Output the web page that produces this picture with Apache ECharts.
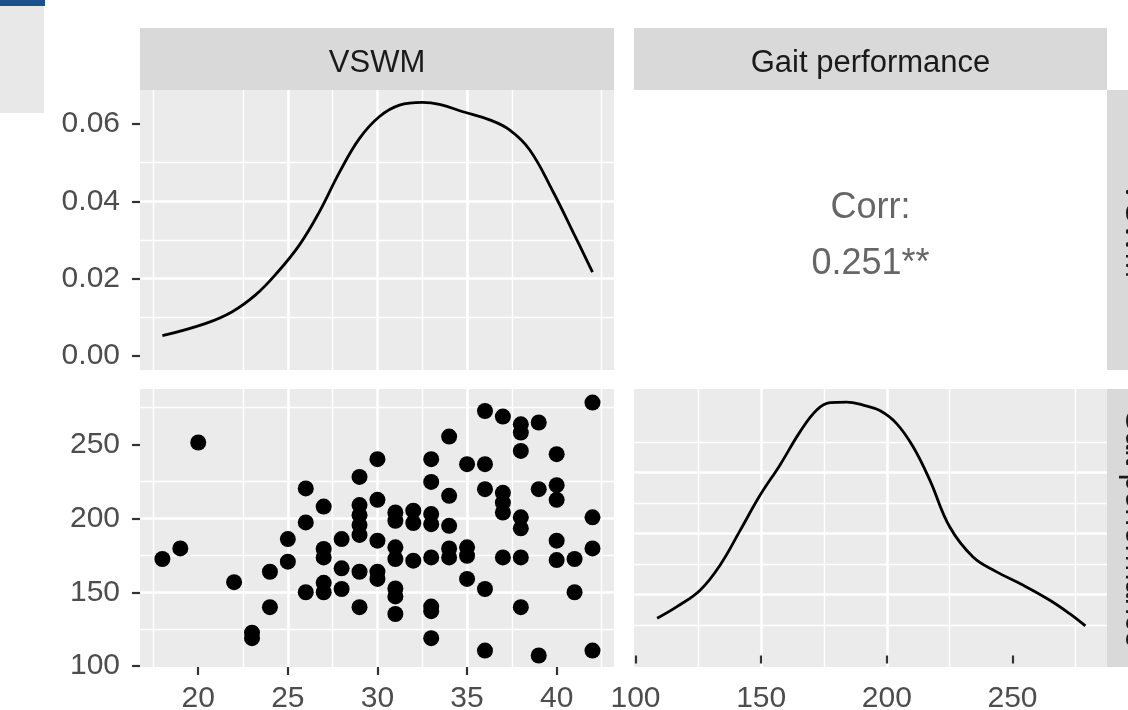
<!DOCTYPE html>
<html><head><meta charset="utf-8">
<script src="https://cdn.jsdelivr.net/npm/echarts@6/dist/echarts.min.js"></script>
<style>html,body{margin:0;padding:0;background:#fff;overflow:hidden}#c{width:1128px;height:710px}</style>
</head><body><div id="c"></div>
<script>
// ---- data ----
const vswmDensX = [18.0, 20.43, 21.9, 23.2, 24.3, 25.64, 26.76, 27.9, 29.0, 30.1, 31.23, 32.5, 33.46, 34.77, 36.26, 37.37, 38.5, 39.8, 40.9, 42.0];
const vswmDensY = [0.00525, 0.00846, 0.01146, 0.0158, 0.021, 0.0287, 0.0373, 0.0477, 0.0563, 0.0619, 0.0649, 0.0656, 0.0651, 0.0632, 0.0611, 0.0585, 0.0533, 0.0425, 0.0322, 0.0217];

const gaitDensX = [108.6, 116.5, 125.8, 133.7, 141.7, 149.6, 157.5, 165.5, 172.1, 177.4, 184.0, 190.6, 197.2, 203.8, 210.4, 217.1, 225.0, 234.2, 243.5, 254.1, 264.7, 272.6, 279.0];
const gaitDensY = [0.00122, 0.0016, 0.00215, 0.00297, 0.00411, 0.00526, 0.00625, 0.00734, 0.00805, 0.00829, 0.00831, 0.00821, 0.00803, 0.00761, 0.00685, 0.00575, 0.00422, 0.00324, 0.00275, 0.00231, 0.00182, 0.00138, 0.00097];

const vswmScores = [18, 19, 20, 22, 23, 23, 24, 24, 25, 25, 26, 26, 26,
  27, 27, 27, 27, 27, 28, 28, 28, 29, 29, 29, 29, 29, 29, 29,
  30, 30, 30, 30, 30, 31, 31, 31, 31, 31, 31, 31, 32, 32, 32,
  33, 33, 33, 33, 33, 33, 33, 33, 34, 34, 34, 34, 34, 35, 35, 35, 35,
  36, 36, 36, 36, 36, 37, 37, 37, 37, 37, 38, 38, 38, 38, 38, 38, 38,
  39, 39, 39, 40, 40, 40, 40, 40, 41, 41, 42, 42, 42, 42];
const gaitScores = [172.5, 179.7, 251.4, 156.8, 122.6, 118.9, 163.9, 139.9, 186, 170.7, 220.3, 197.3, 150,
  208, 179.3, 173.6, 156.4, 150, 186, 166.2, 152.2, 228.1, 209, 202.2, 195.5, 188.8, 163.9, 139.9,
  240.1, 212.6, 184.9, 163.9, 159, 204, 198.4, 180.4, 172.5, 152.6, 147.2, 135.3, 205.2, 196.9, 171.4,
  240.1, 224.7, 202.9, 196.1, 173.6, 140.3, 137.2, 118.9, 255.4, 215.3, 195, 179.7, 173.6, 236.7, 180.4, 174.7, 159,
  272.7, 236.7, 219.8, 152.2, 110.5, 268.9, 217.3, 210.6, 204, 173.6, 263.7, 258.1, 245.7, 200.7, 193.3, 173.6, 139.9,
  264.9, 219.8, 107.2, 243.5, 222.5, 212.6, 184.9, 171.8, 172.5, 150, 278.4, 200.7, 179.7, 110.5];

const vswmTicks = [20, 25, 30, 35, 40];
const gaitTicks = [100, 150, 200, 250];
const densTicks = [0.00, 0.02, 0.04, 0.06];
const stripLabels = ['VSWM', 'Gait performance'];
const corrLabel = 'Corr:';
const corrValue = '0.251**';

// ---- chart ----
const FONT = "'Liberation Sans', Arial, sans-serif";
const chart = echarts.init(document.getElementById('c'), null, {renderer: 'canvas'});

const LEFT = {left: 140, width: 474};
const RIGHT = {left: 634, width: 473};
const TOP = {top: 90, height: 280};
const BOT = {top: 389, height: 278};

function grid(h, v) {
  return {left: h.left, width: h.width, top: v.top, height: v.height,
    show: true, backgroundColor: '#ebebeb', borderWidth: 0, containLabel: false, outerBoundsMode: 'none'};
}

function axis(gridIndex, min, max, step, ticks, showLabels, fmt, dim) {
  return {
    type: 'value', gridIndex: gridIndex, min: min, max: max,
    minInterval: step, maxInterval: step, splitNumber: 4,
    axisLine: {show: false},
    axisTick: {show: showLabels, length: 8, customValues: ticks, lineStyle: {color: '#333333', width: 2.2}},
    axisLabel: {show: showLabels, customValues: ticks, color: '#4d4d4d', fontSize: 30, fontFamily: FONT,
      margin: dim === 'y' ? 20 : 17, formatter: fmt || (v => String(v))},
    splitLine: {show: true, showMinLine: false, showMaxLine: false, lineStyle: {color: '#ffffff', width: 2.6}},
    minorTick: {show: false, splitNumber: 2},
    minorSplitLine: {show: true, lineStyle: {color: '#ffffff', width: 1.4}}
  };
}

const textStyle = (t, size, color) => ({text: t, fill: color, font: size + 'px ' + FONT,
  align: 'center', verticalAlign: 'middle', textAlign: 'center', textVerticalAlign: 'middle'});

const option = {
  animation: false,
  backgroundColor: '#ffffff',
  grid: [grid(LEFT, TOP), grid(LEFT, BOT), grid(RIGHT, BOT)],
  xAxis: [
    axis(0, 16.75, 43.2, 5, vswmTicks, false, null, 'x'),
    axis(1, 16.75, 43.2, 5, vswmTicks, true, null, 'x'),
    axis(2, 99.4, 287.6, 50, gaitTicks, true, null, 'x')
  ],
  yAxis: [
    axis(0, -0.00362, 0.06882, 0.02, densTicks, true, v => v.toFixed(2), 'y'),
    axis(1, 99.4, 287.6, 50, gaitTicks, true, null, 'y'),
    axis(2, -0.000377, 0.008738, 0.002, [0, 0.002, 0.004, 0.006, 0.008], false, null, 'y')
  ],
  series: [
    {type: 'line', xAxisIndex: 0, yAxisIndex: 0, showSymbol: false, smooth: 0.4,
      lineStyle: {color: '#000', width: 2.8}, data: vswmDensX.map((x, i) => [x, vswmDensY[i]])},
    {type: 'scatter', xAxisIndex: 1, yAxisIndex: 1, symbol: 'circle', symbolSize: 16,
      itemStyle: {color: '#000', opacity: 1}, data: vswmScores.map((x, i) => [x, gaitScores[i]])},
    {type: 'line', xAxisIndex: 2, yAxisIndex: 2, showSymbol: false, smooth: 0.4,
      lineStyle: {color: '#000', width: 2.8}, data: gaitDensX.map((x, i) => [x, gaitDensY[i]])}
  ],
  graphic: [
    // screenshot remnants at the top-left corner
    {type: 'rect', shape: {x: 0, y: 0, width: 45, height: 6}, style: {fill: '#1f4e8f'}},
    {type: 'rect', shape: {x: 0, y: 6, width: 44, height: 107}, style: {fill: '#e8e8e8'}},
    // top strips
    {type: 'rect', shape: {x: LEFT.left, y: 28, width: LEFT.width, height: 62}, style: {fill: '#d9d9d9'}},
    {type: 'rect', shape: {x: RIGHT.left, y: 28, width: RIGHT.width, height: 62}, style: {fill: '#d9d9d9'}},
    {type: 'text', x: LEFT.left + LEFT.width / 2, y: 63.5, style: textStyle(stripLabels[0], 31, '#1a1a1a')},
    {type: 'text', x: RIGHT.left + RIGHT.width / 2, y: 63.5, style: textStyle(stripLabels[1], 31, '#1a1a1a')},
    // right strips
    {type: 'rect', shape: {x: 1107, y: TOP.top, width: 60, height: TOP.height}, style: {fill: '#d9d9d9'}},
    {type: 'rect', shape: {x: 1107, y: BOT.top, width: 60, height: BOT.height}, style: {fill: '#d9d9d9'}},
    {type: 'text', x: 1135, y: TOP.top + TOP.height / 2, rotation: -Math.PI / 2, style: textStyle(stripLabels[0], 31, '#1a1a1a')},
    {type: 'text', x: 1135, y: BOT.top + BOT.height / 2, rotation: -Math.PI / 2, style: textStyle(stripLabels[1], 31, '#1a1a1a')},
    // correlation panel
    {type: 'text', x: RIGHT.left + RIGHT.width / 2, y: 208, style: textStyle(corrLabel, 36, '#666666')},
    {type: 'text', x: RIGHT.left + RIGHT.width / 2, y: 264, style: textStyle(corrValue, 36, '#666666')}
  ]
};
chart.setOption(option);
</script>
</body></html>
